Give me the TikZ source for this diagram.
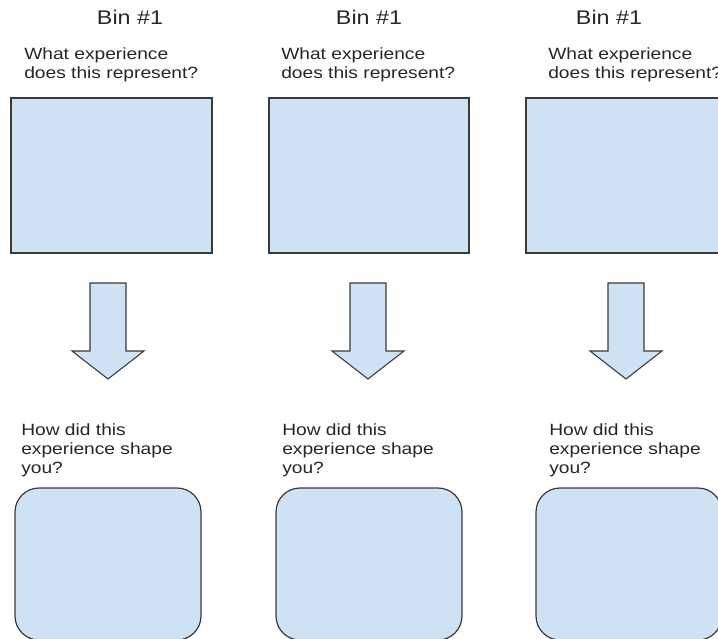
\documentclass[tikz,border=0pt]{standalone}
\usepackage{fontspec}
\setmainfont[FakeStretch=1.18]{Liberation Sans}
\usepackage{tikz}

\definecolor{binfill}{HTML}{CFE2F3}
\definecolor{binline}{HTML}{3A3A3A}
\definecolor{bintext}{HTML}{262626}

\begin{document}
\begin{tikzpicture}[
		x=0.75pt, y=-0.75pt,
		every node/.style={inner sep=0pt, text=bintext},
		title/.style={font=\fontsize{14.8}{17}\selectfont, anchor=base},
		question/.style={font=\fontsize{12.2}{14.25}\selectfont, align=left, anchor=north west},
		binbox/.style={rectangle, draw=binline, fill=binfill, line width=0.9pt, minimum width=150pt, minimum height=116.25pt},
		shapebox/.style={rectangle, rounded corners=18pt, draw=binline, fill=binfill, line width=0.9pt, minimum width=139.5pt, minimum height=114pt},
		blockarrow/.style={draw=binline, fill=binfill, line width=0.8pt, line join=miter}
	]
  \useasboundingbox (0,0) rectangle (718,639);
  \clip (0,0) rectangle (718,639);
  % first column
  \node (bin_a) [title] at (130,25) {Bin \#1};
  \node (ask_a) [question] at (24,47) {What experience\\does this represent?};
  \node (exp_a) [binbox, minimum width=150.75pt] at (111.5,175.5) {};
  \draw [blockarrow, shift={(108,0)}] (-18,283) -- (18,283) -- (18,351) -- (36,351) -- (0,379) -- (-36,351) -- (-18,351) -- cycle;
  \node (how_a) [question] at (21,423) {How did this\\experience shape\\you?};
  \node (out_a) [shapebox] at (108,564) {};
  % second column
  \node (bin_b) [title] at (369,25) {Bin \#1};
  \node (ask_b) [question] at (281,47) {What experience\\does this represent?};
  \node (exp_b) [binbox] at (369,175.5) {};
  \draw [blockarrow, shift={(368,0)}] (-18,283) -- (18,283) -- (18,351) -- (36,351) -- (0,379) -- (-36,351) -- (-18,351) -- cycle;
  \node (how_b) [question] at (282,423) {How did this\\experience shape\\you?};
  \node (out_b) [shapebox] at (369,564) {};
  % third column
  \node (bin_c) [title] at (609,25) {Bin \#1};
  \node (ask_c) [question] at (548,47) {What experience\\does this represent?};
  \node (exp_c) [binbox, minimum width=150.75pt] at (626.5,175.5) {};
  \draw [blockarrow, shift={(626,0)}] (-18,283) -- (18,283) -- (18,351) -- (36,351) -- (0,379) -- (-36,351) -- (-18,351) -- cycle;
  \node (how_c) [question] at (549,423) {How did this\\experience shape\\you?};
  \node (out_c) [shapebox] at (629,564) {};
\end{tikzpicture}
\end{document}
